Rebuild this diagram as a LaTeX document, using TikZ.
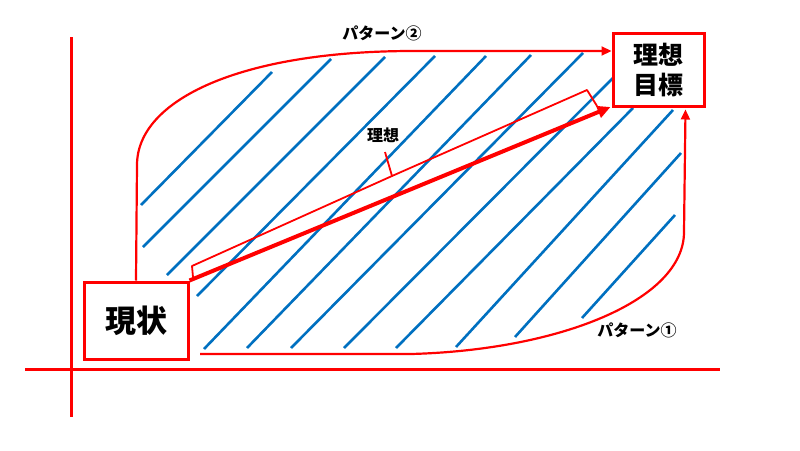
\documentclass[tikz,border=0pt]{standalone}
\usepackage{fontspec}
\newfontfamily\jp{Noto Sans CJK JP}
\usetikzlibrary{arrows.meta,calc}
\definecolor{hatch}{HTML}{0070C0}
\tikzset{
  redline/.style={draw=red,line width=2.5pt},
  boxnode/.style={draw=red,line width=3pt,fill=white,inner sep=0pt,align=center,font=\jp\bfseries},
  hatchline/.style={draw=hatch,line width=2.6pt},
  pathline/.style={draw=red,line width=2.2pt,-{Triangle[length=10pt,width=9pt]}},
  bigarrow/.style={draw=red,line width=4pt,-{Triangle[length=13pt,width=12pt]}},
  bracel/.style={draw=red,line width=1.8pt,line join=round},
  lbl/.style={font=\jp\bfseries\fontsize{16}{18}\selectfont,inner sep=0pt}
}
\begin{document}
\begin{tikzpicture}[x=1pt,y=-1pt]
\useasboundingbox (0,0) rectangle (800,450);
% hatching
\foreach \a/\b/\c/\d in {141/205/272/72, 143/247/331/59, 167/275/385/57, 197/296/435/56,
  204/349/486/56, 247/348/531/55, 291/348/583/53, 344/348/613/78, 396/348/633/108,
  456/347/673/110, 515/337/681/153, 582/318/675/215}
  \draw[hatchline] (\a,\b) -- (\c,\d);
% axes
\draw[redline,line width=3pt] (71,37) -- (71,417);
\draw[redline,line width=3pt] (25,369) -- (720,369);
% boxes
\node[boxnode,minimum width=104pt,minimum height=77pt,font=\jp\bfseries\fontsize{31}{34}\selectfont] (genjo) at (136,320.5) {現状};
\node[boxnode,minimum width=91pt,minimum height=73pt,font=\jp\bfseries\fontsize{25}{32}\selectfont] (risou) at (658.5,70) {理想\\[-2pt]目標};
% pattern 2
\coordinate (p2a) at (137,165);
\coordinate (p2b) at (413,51);
\draw[pathline] (genjo.north) -- (p2a) .. controls (137,100) and (240,51) .. (p2b) -- (p2b -| risou.west);
% pattern 1
\coordinate (p1s) at (200,354);
\coordinate (p1a) at (411,354);
\coordinate (p1b) at (684,232);
\draw[pathline] (p1s) -- (p1a) .. controls (560,350) and (684,300) .. (p1b) -- ($(risou.south east)+(-20,1.5)$);
% main arrow
\draw[bigarrow] (genjo.north east) -- ($(risou.south west)+(-1,-1)$);
% brace
\draw[bracel] (193,277) -- (192,266) -- (392,176) -- (385,152);
\draw[bracel] (392,176) -- (587,90) -- (597,106);
% labels
\node[lbl] (l2) at (382,33) {パターン②};
\node[lbl] (l1) at (637,330) {パターン①};
\node[lbl] (lr) at (383,135) {理想};
\end{tikzpicture}
\end{document}
